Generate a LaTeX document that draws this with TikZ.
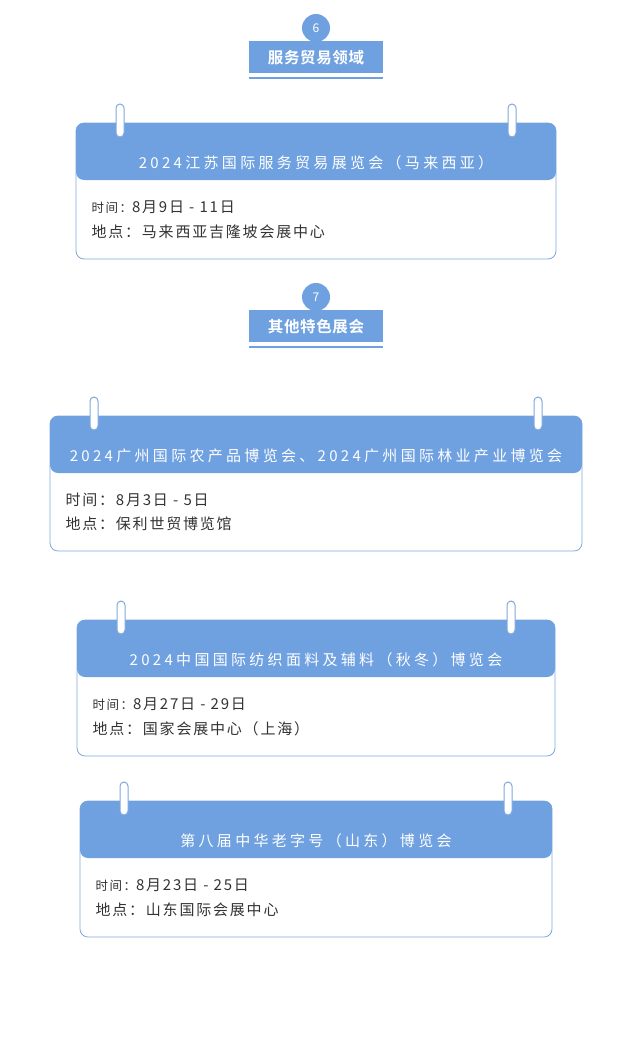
\documentclass[tikz,border=0pt]{standalone}
\usepackage{fontspec}
\setmainfont{Noto Sans CJK SC}
\newfontfamily\cjkb{Noto Sans CJK SC Bold}
\definecolor{hb}{HTML}{6FA1E1}
\definecolor{bd}{HTML}{7FA9DB}
\definecolor{tx}{HTML}{333333}
\begin{document}
\begin{tikzpicture}[x=1pt,y=-1pt,
 ttl/.style={text=white,font=\fontsize{15}{17}\selectfont\addfontfeature{LetterSpace=22},anchor=center},
 bodyt/.style={text=tx,font=\fontsize{15}{17}\selectfont\addfontfeature{LetterSpace=12},anchor=west},
 lbl/.style={fill=hb,text=white,minimum width=134pt,minimum height=32pt,inner sep=0pt,font=\cjkb\fontsize{15.5}{17}\selectfont\addfontfeature{LetterSpace=4}},
 num/.style={circle,fill=hb,text=white,minimum size=28pt,inner sep=0pt,font=\fontsize{12}{13}\selectfont}]
\useasboundingbox (0,0) rectangle (632,1049);
\newcommand\sechead[4]{%
 \node[num] (n#3) at (316,#1) {#3};
 \node[lbl,anchor=north] (l#3) at (316,#2) {#4};
 \draw[hb,line width=2pt] ([yshift=-5pt]l#3.south west) -- ([yshift=-5pt]l#3.south east);}
\newcommand\card[9]{%
 \draw[bd,fill=white,rounded corners=8pt,line width=0.8pt] (#1,#2) rectangle (#3,#4);
 \fill[hb,rounded corners=8pt] (#1,#5) -- (#1,#2) -- (#3,#2) -- (#3,#5) -- cycle;
 \foreach \rx in {#6,#7}{\draw[bd,fill=white,rounded corners=4pt,line width=1pt] (\rx-4,#2-19) rectangle (\rx+4,#2+14);}
 \node[ttl] at ({(#1+#3)/2},#5-17) {#8};
 #9}
\sechead{28}{41}{6}{服务贸易领域}
\sechead{297}{310}{7}{其他特色展会}
\card{76}{123}{556}{259}{180}{120}{512}{2024江苏国际服务贸易展览会（马来西亚）}{
 \node[bodyt] (a1) at (88,207) {{\fontsize{12.5}{14}\selectfont 时间：}8月9日 - 11日};
 \node[bodyt] (a2) at (88,232) {地点：马来西亚吉隆坡会展中心};}
\card{50}{416}{582}{551}{473}{94}{538}{\addfontfeature{LetterSpace=22}2024广州国际农产品博览会、2024广州国际林业产业博览会}{
 \node[bodyt] (b1) at (62,500) {时间：8月3日 - 5日};
 \node[bodyt] (b2) at (62,524) {地点：保利世贸博览馆};}
\card{77}{620}{555}{756}{677}{121}{511}{2024中国国际纺织面料及辅料（秋冬）博览会}{
 \node[bodyt] (c1) at (89,704) {{\fontsize{12.5}{14}\selectfont 时间：}8月27日 - 29日};
 \node[bodyt] (c2) at (89,729) {地点：国家会展中心（上海）};}
\card{80}{801}{552}{937}{858}{124}{508}{第八届中华老字号（山东）博览会}{
 \node[bodyt] (d1) at (92,885) {{\fontsize{12.5}{14}\selectfont 时间：}8月23日 - 25日};
 \node[bodyt] (d2) at (92,910) {地点：山东国际会展中心};}
\end{tikzpicture}
\end{document}
